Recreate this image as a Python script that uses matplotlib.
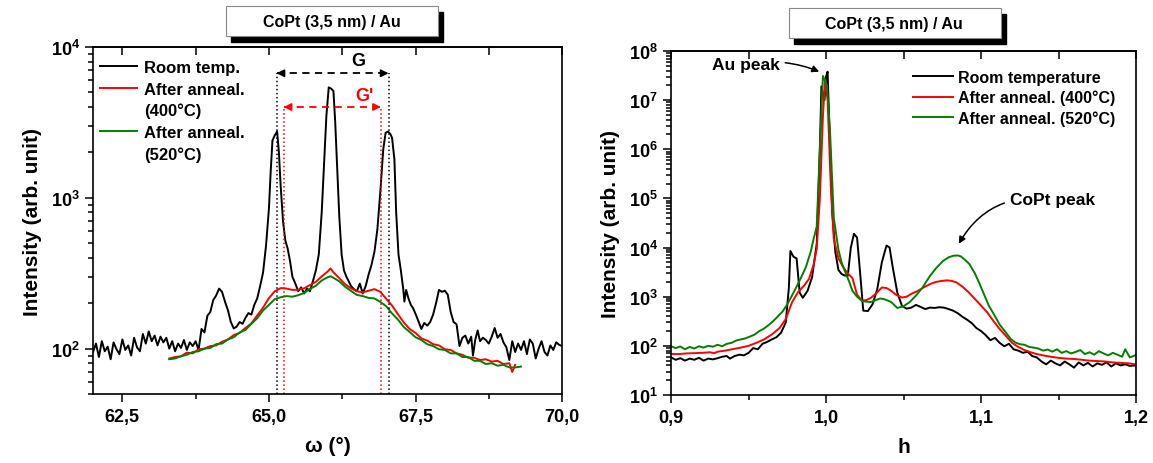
import matplotlib
matplotlib.use("Agg")
import matplotlib.pyplot as plt
from matplotlib.lines import Line2D
from matplotlib.patches import Rectangle
import numpy as np

plt.rcParams['font.family'] = ['Liberation Sans', 'DejaVu Sans']
plt.rcParams['font.weight'] = 'bold'
plt.rcParams['mathtext.fontset'] = 'custom'
plt.rcParams['mathtext.rm'] = 'Liberation Sans:bold'
plt.rcParams['mathtext.bf'] = 'Liberation Sans:bold'
plt.rcParams['mathtext.default'] = 'bf'

# ---- left panel: omega scans ----
w_room = [62.00, 62.05, 62.10, 62.15, 62.20, 62.25, 62.30, 62.35, 62.40, 62.45,
          62.50, 62.55, 62.60, 62.65, 62.70, 62.75, 62.80, 62.85, 62.90, 62.95,
          63.00, 63.05, 63.10, 63.15, 63.20, 63.25, 63.30, 63.35, 63.40, 63.45,
          63.50, 63.55, 63.60, 63.65, 63.70, 63.75, 63.80, 63.85, 63.90, 63.95,
          64.00, 64.05, 64.10, 64.15, 64.20, 64.25, 64.30, 64.35, 64.40, 64.45,
          64.50, 64.55, 64.60, 64.65, 64.70, 64.75, 64.80, 64.85, 64.90, 64.95,
          65.00, 65.03, 65.06, 65.10, 65.14, 65.17, 65.20, 65.24, 65.28, 65.32,
          65.36, 65.40, 65.45, 65.50, 65.55, 65.60, 65.65, 65.70, 65.75, 65.80,
          65.85, 65.90, 65.94, 65.98, 66.02, 66.06, 66.10, 66.13, 66.16, 66.20,
          66.24, 66.28, 66.32, 66.36, 66.40, 66.45, 66.50, 66.55, 66.60, 66.65,
          66.70, 66.75, 66.80, 66.85, 66.90, 66.95, 66.99, 67.03, 67.07, 67.10,
          67.14, 67.17, 67.21, 67.25, 67.29, 67.31, 67.34, 67.38, 67.42, 67.46,
          67.50, 67.55, 67.60, 67.65, 67.70, 67.75, 67.80, 67.85, 67.90, 67.95,
          68.00, 68.05, 68.10, 68.15, 68.20, 68.25, 68.30, 68.35, 68.40, 68.45,
          68.48, 68.52, 68.56, 68.60, 68.65, 68.70, 68.75, 68.80, 68.85, 68.90,
          68.95, 69.00, 69.05, 69.10, 69.15, 69.20, 69.25, 69.30, 69.35, 69.40,
          69.45, 69.50, 69.55, 69.60, 69.65, 69.70, 69.75, 69.80, 69.85, 69.90,
          69.95, 70.00]
i_room = [95, 108, 88, 112, 96, 103, 85, 110, 99, 92,
          115, 98, 105, 90, 118, 102, 96, 125, 108, 130,
          112, 122, 105, 120, 110, 118, 100, 112, 96, 108,
          101, 114, 98, 110, 104, 112, 98, 135, 128, 165,
          175, 210, 225, 250, 238, 205, 180, 150, 136, 140,
          150, 146, 160, 172, 168, 195, 215, 260, 320, 480,
          850, 1500, 2400, 2600, 2750, 2000, 1200, 700, 520, 460,
          380, 300, 270, 240, 255, 232, 250, 240, 280, 330,
          420, 800, 1700, 3500, 5400, 5300, 5100, 3200, 1700, 750,
          420, 330, 300, 280, 260, 248, 240, 270, 232, 260,
          310, 360, 440, 620, 1100, 2100, 2700, 2750, 2650, 2500,
          1800, 800, 420, 330, 250, 205, 245, 215, 195, 185,
          170, 152, 135, 148, 142, 150, 168, 200, 245, 238,
          242, 228, 175, 150, 145, 104, 118, 122, 108, 120,
          90, 115, 132, 112, 118, 114, 108, 120, 137, 118,
          125, 110, 102, 84, 112, 95, 108, 98, 112, 92,
          115, 108, 86, 100, 112, 95, 90, 105, 98, 110,
          106, 104]

w_400 = [63.30, 63.40, 63.50, 63.60, 63.70, 63.80, 63.90, 64.00, 64.10, 64.20,
         64.30, 64.40, 64.50, 64.60, 64.70, 64.80, 64.90, 65.00, 65.10, 65.20,
         65.30, 65.40, 65.50, 65.60, 65.70, 65.80, 65.90, 66.00, 66.05, 66.10,
         66.20, 66.30, 66.40, 66.50, 66.60, 66.70, 66.80, 66.90, 67.00, 67.10,
         67.20, 67.30, 67.40, 67.50, 67.60, 67.70, 67.80, 67.90, 68.00, 68.10,
         68.20, 68.30, 68.40, 68.50, 68.60, 68.70, 68.80, 68.90, 69.00, 69.10,
         69.15, 69.20]
i_400 = [86, 88, 89, 94, 93, 99, 100, 104, 105, 111,
         115, 123, 127, 137, 147, 166, 187, 216, 240, 252,
         250, 245, 246, 251, 264, 277, 301, 324, 340, 321,
         293, 267, 251, 240, 236, 242, 248, 238, 214, 193,
         169, 149, 135, 127, 117, 113, 107, 105, 99, 98,
         93, 91, 87, 87, 84, 85, 82, 83, 79, 80,
         70, 78]

w_520 = [63.30, 63.40, 63.50, 63.60, 63.70, 63.80, 63.90, 64.00, 64.10, 64.20,
         64.30, 64.40, 64.50, 64.60, 64.70, 64.80, 64.90, 65.00, 65.10, 65.20,
         65.30, 65.40, 65.50, 65.60, 65.70, 65.80, 65.90, 66.00, 66.05, 66.10,
         66.20, 66.30, 66.40, 66.50, 66.60, 66.70, 66.80, 66.90, 67.00, 67.10,
         67.20, 67.30, 67.40, 67.50, 67.60, 67.70, 67.80, 67.90, 68.00, 68.10,
         68.20, 68.30, 68.40, 68.50, 68.60, 68.70, 68.80, 68.90, 69.00, 69.10,
         69.20, 69.30]
i_520 = [85, 86, 89, 91, 95, 96, 100, 101, 107, 108,
         115, 119, 128, 133, 146, 159, 179, 195, 213, 219,
         223, 221, 226, 234, 249, 261, 283, 297, 302, 295,
         279, 257, 241, 227, 223, 217, 215, 204, 191, 171,
         156, 139, 129, 119, 114, 107, 104, 99, 98, 93,
         93, 88, 88, 83, 83, 79, 80, 77, 78, 75,
         75, 76]

# ---- right panel: h scans ----
h_room = [0.900, 0.903, 0.906, 0.909, 0.912, 0.915, 0.918, 0.921, 0.924, 0.927,
          0.930, 0.933, 0.936, 0.938, 0.941, 0.944, 0.947, 0.950, 0.953, 0.956,
          0.959, 0.962, 0.965, 0.968, 0.971, 0.974, 0.976, 0.977, 0.979, 0.981,
          0.983, 0.985, 0.988, 0.991, 0.994, 0.996, 0.997, 0.999, 1.000, 1.001,
          1.002, 1.004, 1.006, 1.008, 1.010, 1.012, 1.014, 1.016, 1.018, 1.020,
          1.022, 1.024, 1.027, 1.030, 1.033, 1.036, 1.039, 1.041, 1.043, 1.046,
          1.049, 1.052, 1.055, 1.058, 1.061, 1.064, 1.067, 1.070, 1.073, 1.076,
          1.079, 1.082, 1.085, 1.088, 1.091, 1.094, 1.097, 1.100, 1.103, 1.106,
          1.109, 1.112, 1.115, 1.118, 1.121, 1.124, 1.127, 1.130, 1.133, 1.136,
          1.139, 1.142, 1.145, 1.148, 1.151, 1.154, 1.157, 1.160, 1.163, 1.166,
          1.169, 1.172, 1.175, 1.178, 1.181, 1.184, 1.187, 1.190, 1.193, 1.196,
          1.200]
r_room = [58, 52, 56, 50, 55, 52, 57, 50, 55, 53,
          56, 60, 62, 55, 62, 66, 64, 72, 90, 85,
          110, 120, 135, 150, 185, 300, 1500, 8500, 6500, 6000,
          1200, 950, 1300, 2500, 12000, 1.0e6, 1.9e7, 1.0e7, 3.0e7, 3.8e7,
          4.0e6, 5.0e4, 8000, 3500, 2900, 2700, 2650, 10000, 19000, 16000,
          3000, 520, 510, 700, 1400, 5000, 11000, 10000, 4000, 1200,
          650, 570, 600, 680, 620, 560, 600, 590, 610, 600,
          560, 520, 460, 390, 340, 290, 230, 200, 165, 130,
          145, 115, 98, 110, 85, 80, 72, 76, 62, 58,
          48, 42, 50, 44, 40, 48, 42, 36, 46, 40,
          45, 38, 44, 41, 46, 38, 44, 40, 42, 39,
          40]

h_400 = [0.900, 0.905, 0.910, 0.915, 0.920, 0.925, 0.928, 0.930, 0.935, 0.940,
         0.945, 0.950, 0.955, 0.960, 0.965, 0.970, 0.974, 0.978, 0.982, 0.986,
         0.989, 0.992, 0.994, 0.996, 0.998, 0.9994, 1.001, 1.003, 1.005, 1.008,
         1.011, 1.014, 1.017, 1.020, 1.023, 1.026, 1.029, 1.032, 1.036, 1.039,
         1.042, 1.045, 1.049, 1.052, 1.055, 1.059, 1.063, 1.067, 1.071, 1.075,
         1.078, 1.081, 1.084, 1.088, 1.092, 1.096, 1.100, 1.104, 1.108, 1.112,
         1.116, 1.120, 1.124, 1.128, 1.132, 1.136, 1.140, 1.145, 1.150, 1.155,
         1.160, 1.165, 1.170, 1.175, 1.180, 1.185, 1.190, 1.195, 1.200]
r_400 = [68, 68, 70, 71, 72, 74, 71, 76, 80, 86,
         92, 100, 115, 135, 170, 230, 350, 760, 1250, 1700,
         2300, 4500, 9500, 1.0e5, 4.8e6, 2.7e7, 1.0e7, 2.0e5, 15000, 6000,
         4000, 3000, 2400, 1100, 840, 850, 950, 1140, 1540, 1500,
         1320, 1100, 960, 1000, 1140, 1300, 1540, 1800, 2000, 2100,
         2150, 2100, 1960, 1600, 1230, 900, 660, 480, 320, 220,
         160, 115, 95, 82, 74, 68, 64, 60, 57, 55,
         54, 52, 50, 49, 48, 46, 45, 44, 42]

h_520 = [0.900, 0.903, 0.906, 0.909, 0.912, 0.915, 0.918, 0.921, 0.924, 0.927,
         0.930, 0.933, 0.936, 0.939, 0.942, 0.945, 0.948, 0.951, 0.954, 0.957,
         0.960, 0.963, 0.966, 0.969, 0.972, 0.975, 0.978, 0.981, 0.984, 0.987,
         0.990, 0.992, 0.994, 0.996, 0.998, 1.0006, 1.0026, 1.005, 1.008, 1.010,
         1.012, 1.015, 1.017, 1.020, 1.023, 1.026, 1.029, 1.032, 1.035, 1.038,
         1.042, 1.046, 1.050, 1.054, 1.058, 1.062, 1.067, 1.071, 1.0755, 1.079,
         1.082, 1.085, 1.087, 1.090, 1.0925, 1.096, 1.0987, 1.102, 1.105, 1.109,
         1.112, 1.116, 1.119, 1.122, 1.125, 1.128, 1.131, 1.134, 1.137, 1.140,
         1.143, 1.146, 1.149, 1.152, 1.155, 1.158, 1.161, 1.164, 1.167, 1.170,
         1.173, 1.176, 1.179, 1.182, 1.185, 1.188, 1.191, 1.193, 1.196, 1.200]
r_520 = [98, 90, 97, 85, 95, 88, 98, 92, 100, 96,
         105, 98, 110, 115, 128, 135, 142, 155, 170, 200,
         225, 265, 320, 400, 500, 700, 1050, 1600, 2500, 4000,
         8000, 15000, 27000, 1.0e6, 3.1e7, 2.0e7, 2.2e6, 4.0e4, 9000, 5000,
         3400, 2000, 1320, 1000, 830, 790, 780, 850, 920, 880,
         780, 590, 640, 780, 1050, 1500, 2630, 3800, 5350, 6300,
         6800, 6900, 6600, 5500, 4600, 3000, 1940, 1100, 660, 400,
         270, 187, 140, 117, 108, 105, 95, 92, 88, 80,
         84, 76, 85, 72, 78, 70, 75, 82, 68, 74,
         66, 78, 70, 64, 72, 66, 60, 85, 58, 65]

labels_left = ["Room temp.", "After anneal.", "(400°C)", "After anneal.", "(520°C)"]
labels_right = ["Room temperature", "After anneal. (400°C)", "After anneal. (520°C)"]
title_text = "CoPt (3,5 nm) / Au"

BLACK, RED, GREEN = "#000000", "#ff0000", "#008000"

fig = plt.figure(figsize=(11.53, 4.64), dpi=100)
ax1 = fig.add_axes([0.0807, 0.1487, 0.4068, 0.7478])
ax2 = fig.add_axes([0.5820, 0.1466, 0.4033, 0.7414])


def style_axes(ax):
    for s in ax.spines.values():
        s.set_linewidth(1.2)
    ax.tick_params(axis='both', which='both', direction='out', top=False, right=False,
                   labelsize=13, width=1.1)
    ax.tick_params(axis='both', which='major', length=6)
    ax.tick_params(axis='both', which='minor', length=3.5)
    ax.tick_params(axis='x', which='major', pad=4)
    # inward ticks on top edge
    top = ax.secondary_xaxis('top')
    top.set_xticks(ax.get_xticks(minor=True), minor=True)
    top.set_xticks(ax.get_xticks())
    top.tick_params(which='both', direction='in', labeltop=False, width=1.1)
    top.tick_params(which='major', length=6)
    top.tick_params(which='minor', length=6)
    top.set_xticklabels([])
    top.spines['top'].set_linewidth(1.2)


# left panel
ax1.plot(w_room, i_room, color=BLACK, lw=1.4)
ax1.plot(w_400, i_400, color=RED, lw=1.4)
ax1.plot(w_520, i_520, color=GREEN, lw=1.4)
ax1.set_yscale('log')
ax1.set_xlim(62, 70)
ax1.set_ylim(50, 1e4)
ax1.set_xticks([62.5, 65.0, 67.5, 70.0])
ax1.set_xticklabels(["62,5", "65,0", "67,5", "70,0"])
ax1.set_xticks([63.75, 66.25, 68.75], minor=True)
ax1.set_yticks([1e2, 1e3, 1e4])
ax1.set_yticklabels([r"$10^{2}$", r"$10^{3}$", r"$10^{4}$"])
ax1.set_xlabel("ω (°)", fontsize=15, fontweight='bold', labelpad=8)
ax1.set_ylabel("Intensity (arb. unit)", fontsize=15, fontweight='bold', labelpad=6)
style_axes(ax1)

# G and G' markers
g_x = [65.13, 67.04]
gp_x = [65.25, 66.91]
g_y, gp_y = 6700, 4000
ax1.vlines(g_x, 50, g_y, colors=BLACK, linestyles=':', lw=1.1)
ax1.vlines(gp_x, 50, gp_y, colors=RED, linestyles=':', lw=1.1)
for xs, yv, col in [(g_x, g_y, BLACK), (gp_x, gp_y, RED)]:
    ax1.plot(xs, [yv, yv], color=col, ls=(0, (4, 3)), lw=1.3)
    mid = (xs[0] + xs[1]) / 2
    for end in xs:
        ax1.annotate("", xy=(end, yv), xytext=(end + (mid - end) * 0.12, yv),
                     arrowprops=dict(arrowstyle='-|>', color=col, lw=1.2,
                                     mutation_scale=11, shrinkA=0, shrinkB=0))
ax1.text(66.52, 8100, "G", ha='center', va='center', fontsize=13, fontweight='bold', color=BLACK)
ax1.text(66.62, 4800, "G'", ha='center', va='center', fontsize=13, fontweight='bold', color=RED)

h1 = [Line2D([], [], color=BLACK, lw=1.4), Line2D([], [], color=RED, lw=1.4),
      Line2D([], [], color='none'), Line2D([], [], color=GREEN, lw=1.4),
      Line2D([], [], color='none')]
ax1.legend(h1, labels_left, loc='upper left', bbox_to_anchor=(0.015, 0.962),
           frameon=False, fontsize=12, handlelength=2.2, handletextpad=0.45,
           labelspacing=0.38, borderpad=0, borderaxespad=0)

# right panel
ax2.plot(h_room, r_room, color=BLACK, lw=1.4)
ax2.plot(h_400, r_400, color=RED, lw=1.4)
ax2.plot(h_520, r_520, color=GREEN, lw=1.4)
ax2.set_yscale('log')
ax2.set_xlim(0.9, 1.2)
ax2.set_ylim(10, 1e8)
ax2.set_xticks([0.9, 1.0, 1.1, 1.2])
ax2.set_xticklabels(["0,9", "1,0", "1,1", "1,2"])
ax2.set_xticks([0.95, 1.05, 1.15], minor=True)
ax2.set_yticks([10.0 ** k for k in range(1, 9)])
ax2.set_yticklabels([r"$10^{%d}$" % k for k in range(1, 9)])
ax2.set_xlabel("h", fontsize=15, fontweight='bold', labelpad=8)
ax2.set_ylabel("Intensity (arb. unit)", fontsize=15, fontweight='bold', labelpad=6)
style_axes(ax2)

ax2.annotate("Au peak", xy=(0.9964, 3.7e7), xytext=(0.9482, 5.4e7),
             ha='center', va='center', fontsize=12.5, fontweight='bold',
             arrowprops=dict(arrowstyle='-|>', color=BLACK, lw=1.1, mutation_scale=10,
                             connectionstyle='arc3,rad=-0.15', shrinkA=2, shrinkB=1))
ax2.annotate("CoPt peak", xy=(1.0852, 1.13e4), xytext=(1.146, 9.3e4),
             ha='center', va='center', fontsize=12.5, fontweight='bold',
             arrowprops=dict(arrowstyle='-|>', color=BLACK, lw=1.1, mutation_scale=10,
                             connectionstyle='arc3,rad=0.35', shrinkA=2, shrinkB=1))

h2 = [Line2D([], [], color=c, lw=1.4) for c in (BLACK, RED, GREEN)]
ax2.legend(h2, labels_right, loc='upper left', bbox_to_anchor=(0.52, 0.945),
           frameon=False, fontsize=11.5, handlelength=2.5, handletextpad=0.35,
           labelspacing=0.3, borderpad=0, borderaxespad=0)

# title boxes with drop shadow
for bx, by, tx, ty in [(226, 7, 332, 22), (789, 9, 894, 24)]:
    w, h = 212, 30
    fig.patches.append(Rectangle(((bx + 5) / 1153, 1 - (by + h + 6) / 464), w / 1153, h / 464,
                                 transform=fig.transFigure, facecolor='black', edgecolor='black'))
    fig.patches.append(Rectangle((bx / 1153, 1 - (by + h) / 464), w / 1153, h / 464,
                                 transform=fig.transFigure, facecolor='white',
                                 edgecolor='#888888', lw=0.8))
    fig.text(tx / 1153, 1 - ty / 464, title_text, ha='center', va='center',
             fontsize=11.5, fontweight='bold')

fig.savefig("out.png", dpi=100)
